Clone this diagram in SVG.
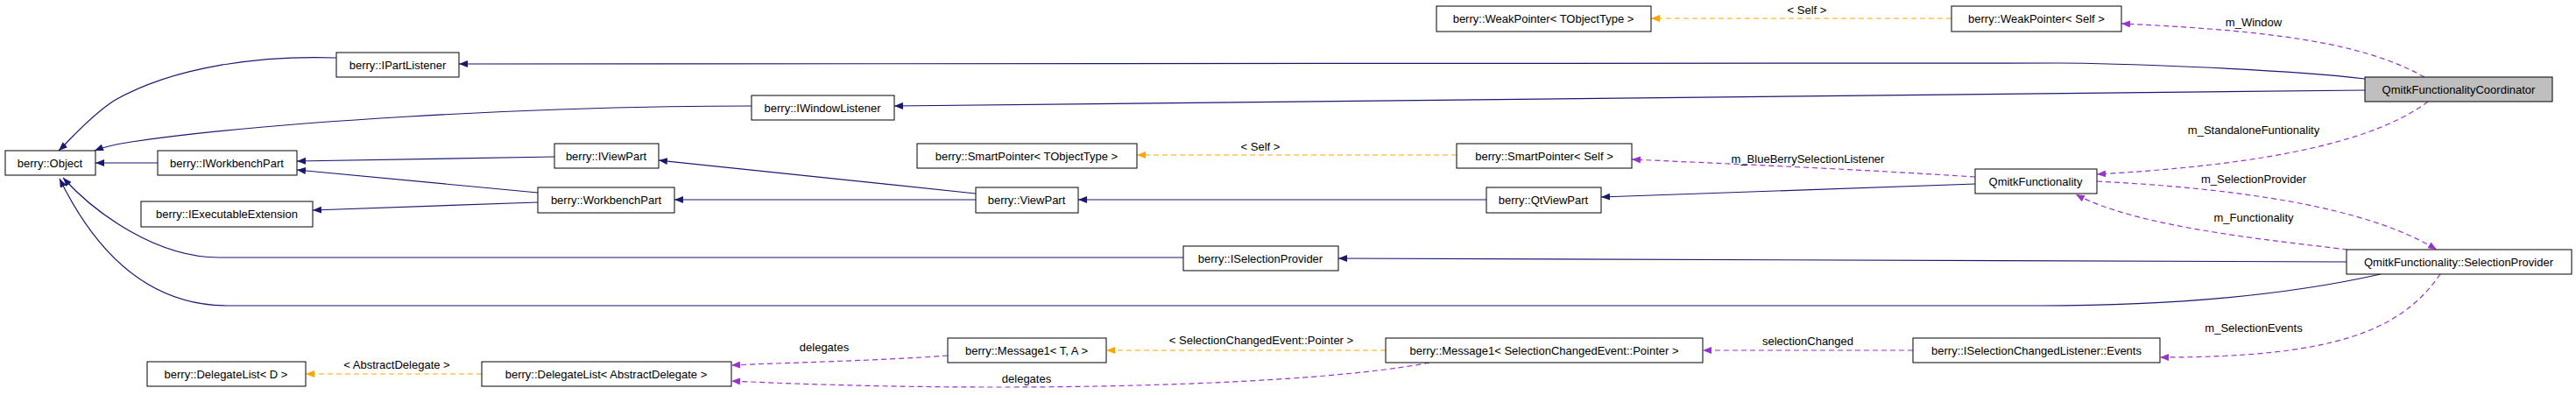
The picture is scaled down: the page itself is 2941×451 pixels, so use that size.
<svg xmlns="http://www.w3.org/2000/svg" width="2941" height="451" viewBox="0 0 2941 451">
<style>
.n rect{fill:#fff;stroke:#000;stroke-width:1}
.n text,.l{font-family:"Liberation Sans",Arial,sans-serif;font-size:13px;text-anchor:middle;fill:#000}
.i{fill:none;stroke:#191970;stroke-width:1.2}
.u{fill:none;stroke:#9a32cd;stroke-width:1.2;stroke-dasharray:6,4}
.t{fill:none;stroke:#ffa500;stroke-width:1.2;stroke-dasharray:6,4}
</style>
<defs>
<marker id="ai" markerWidth="10" markerHeight="8" refX="10" refY="4" orient="auto" markerUnits="userSpaceOnUse"><path d="M0,0L10,4L0,8z" fill="#191970"/></marker>
<marker id="au" markerWidth="10" markerHeight="8" refX="10" refY="4" orient="auto" markerUnits="userSpaceOnUse"><path d="M0,0L10,4L0,8z" fill="#9a32cd"/></marker>
<marker id="at" markerWidth="10" markerHeight="8" refX="10" refY="4" orient="auto" markerUnits="userSpaceOnUse"><path d="M0,0L10,4L0,8z" fill="#ffa500"/></marker>
</defs>
<g id="edges">
<path class="i" marker-end="url(#ai)" d="M2700,90 C2600,78 2400,72 2350,72 L524,73"/>
<path class="i" marker-end="url(#ai)" d="M2700,103 L1021,121"/>
<path class="i" marker-end="url(#ai)" d="M384,66 C300,63 200,75 130,115 C100,135 80,160 67,172"/>
<path class="i" marker-end="url(#ai)" d="M858,121 C600,121 300,140 150,162 C130,165 118,168 108,172"/>
<path class="i" marker-end="url(#ai)" d="M180,186 L109,186"/>
<path class="i" marker-end="url(#ai)" d="M633,179 L339,184"/>
<path class="i" marker-end="url(#ai)" d="M614,220 L339,194"/>
<path class="i" marker-end="url(#ai)" d="M614,231 L357,240"/>
<path class="i" marker-end="url(#ai)" d="M1114,221 L752,183"/>
<path class="i" marker-end="url(#ai)" d="M1114,228 L770,228"/>
<path class="i" marker-end="url(#ai)" d="M1697,228 L1231,228"/>
<path class="i" marker-end="url(#ai)" d="M2255,210 L1828,225"/>
<path class="i" marker-end="url(#ai)" d="M2679,299 L1528,295"/>
<path class="i" marker-end="url(#ai)" d="M1351,294 L250,294 C180,294 110,245 72,203"/>
<path class="i" marker-end="url(#ai)" d="M2718,313 C2620,335 2500,349 2330,349 L260,349 C170,349 110,290 68,204"/>
<path class="u" marker-end="url(#au)" d="M2768,88 C2700,50 2600,35 2422,27"/>
<path class="u" marker-end="url(#au)" d="M2772,116 C2700,170 2550,190 2394,199"/>
<path class="u" marker-end="url(#au)" d="M2255,202 C2100,192 1950,186 1863,182"/>
<path class="u" marker-end="url(#au)" d="M2394,207 C2550,215 2700,235 2782,285"/>
<path class="u" marker-end="url(#au)" d="M2680,285 C2600,275 2440,260 2370,222"/>
<path class="u" marker-end="url(#au)" d="M2786,313 C2740,380 2660,408 2466,408"/>
<path class="u" marker-end="url(#au)" d="M2184,400 L1944,400"/>
<path class="u" marker-end="url(#au)" d="M1632,414 C1500,440 1150,450 835,435"/>
<path class="u" marker-end="url(#au)" d="M1082,406 C1000,412 900,414 835,417"/>
<path class="t" marker-end="url(#at)" d="M2228,21 L1885,21"/>
<path class="t" marker-end="url(#at)" d="M1663,177 L1298,177"/>
<path class="t" marker-end="url(#at)" d="M1582,400 L1263,400"/>
<path class="t" marker-end="url(#at)" d="M550,427 L349,427"/>
<text class="l" x="2573" y="30">m_Window</text>
<text class="l" x="2573" y="153">m_StandaloneFuntionality</text>
<text class="l" x="2064" y="186">m_BlueBerrySelectionListener</text>
<text class="l" x="2573" y="209">m_SelectionProvider</text>
<text class="l" x="2573" y="253">m_Functionality</text>
<text class="l" x="2573" y="379">m_SelectionEvents</text>
<text class="l" x="2064" y="394">selectionChanged</text>
<text class="l" x="941" y="401">delegates</text>
<text class="l" x="1172" y="437">delegates</text>
<text class="l" x="2063" y="16">&lt; Self &gt;</text>
<text class="l" x="1439" y="172">&lt; Self &gt;</text>
<text class="l" x="1440" y="393">&lt; SelectionChangedEvent::Pointer &gt;</text>
<text class="l" x="453" y="421">&lt; AbstractDelegate &gt;</text>
</g>
<g id="coordinator" class="n"><rect x="2700" y="88" width="214" height="28" style="fill:#bfbfbf"/><text x="2807" y="107">QmitkFunctionalityCoordinator</text></g>
<g id="ipartlistener" class="n"><rect x="384" y="60" width="140" height="28"/><text x="454" y="79">berry::IPartListener</text></g>
<g id="iwindowlistener" class="n"><rect x="858" y="109" width="163" height="28"/><text x="939" y="128">berry::IWindowListener</text></g>
<g id="object" class="n"><rect x="6" y="172" width="103" height="28"/><text x="57" y="191">berry::Object</text></g>
<g id="iworkbenchpart" class="n"><rect x="180" y="172" width="159" height="28"/><text x="259" y="191">berry::IWorkbenchPart</text></g>
<g id="iviewpart" class="n"><rect x="633" y="164" width="119" height="28"/><text x="692" y="183">berry::IViewPart</text></g>
<g id="workbenchpart" class="n"><rect x="614" y="214" width="156" height="29"/><text x="692" y="233">berry::WorkbenchPart</text></g>
<g id="iexecutableextension" class="n"><rect x="161" y="230" width="196" height="29"/><text x="259" y="249">berry::IExecutableExtension</text></g>
<g id="delegatelistd" class="n"><rect x="168" y="413" width="181" height="28"/><text x="258" y="432">berry::DelegateList&lt; D &gt;</text></g>
<g id="delegatelistad" class="n"><rect x="550" y="413" width="285" height="28"/><text x="692" y="432">berry::DelegateList&lt; AbstractDelegate &gt;</text></g>
<g id="weakpointert" class="n"><rect x="1640" y="7" width="245" height="29"/><text x="1762" y="26">berry::WeakPointer&lt; TObjectType &gt;</text></g>
<g id="weakpointerself" class="n"><rect x="2228" y="7" width="194" height="29"/><text x="2325" y="26">berry::WeakPointer&lt; Self &gt;</text></g>
<g id="smartpointert" class="n"><rect x="1047" y="164" width="251" height="28"/><text x="1172" y="183">berry::SmartPointer&lt; TObjectType &gt;</text></g>
<g id="smartpointerself" class="n"><rect x="1663" y="164" width="200" height="28"/><text x="1763" y="183">berry::SmartPointer&lt; Self &gt;</text></g>
<g id="viewpart" class="n"><rect x="1114" y="214" width="117" height="29"/><text x="1172" y="233">berry::ViewPart</text></g>
<g id="qtviewpart" class="n"><rect x="1697" y="214" width="131" height="29"/><text x="1762" y="233">berry::QtViewPart</text></g>
<g id="qmitkfunctionality" class="n"><rect x="2255" y="193" width="139" height="28"/><text x="2324" y="212">QmitkFunctionality</text></g>
<g id="iselectionprovider" class="n"><rect x="1351" y="281" width="177" height="28"/><text x="1439" y="300">berry::ISelectionProvider</text></g>
<g id="selectionprovider" class="n"><rect x="2679" y="285" width="257" height="28"/><text x="2807" y="304">QmitkFunctionality::SelectionProvider</text></g>
<g id="message1ta" class="n"><rect x="1082" y="386" width="181" height="28"/><text x="1172" y="405">berry::Message1&lt; T, A &gt;</text></g>
<g id="message1sce" class="n"><rect x="1582" y="386" width="362" height="28"/><text x="1763" y="405">berry::Message1&lt; SelectionChangedEvent::Pointer &gt;</text></g>
<g id="events" class="n"><rect x="2184" y="386" width="282" height="28"/><text x="2325" y="405">berry::ISelectionChangedListener::Events</text></g>
</svg>
